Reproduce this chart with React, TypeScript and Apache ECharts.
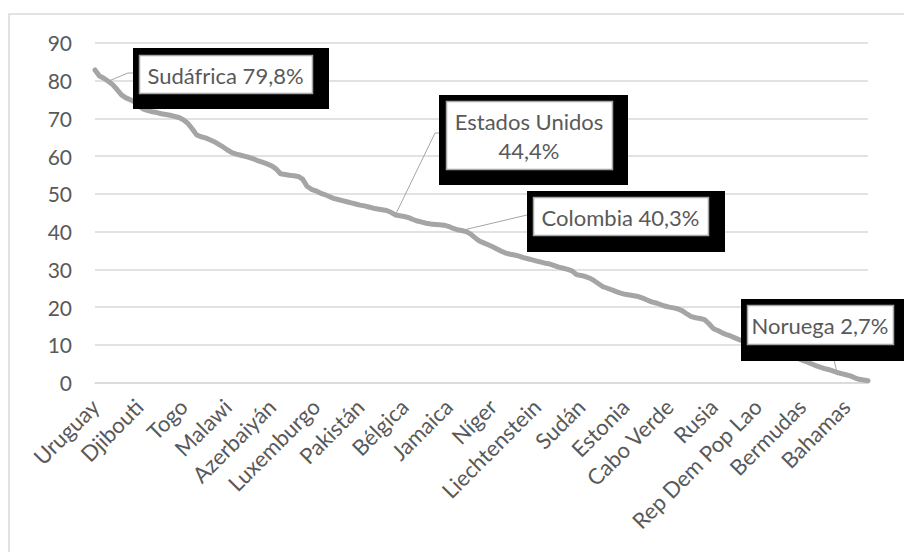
import { useEffect, useRef } from "react";
import * as echarts from "echarts";

// Countries shown on the category axis, one every ten positions.
const tickCountries = [
  "Uruguay", "Djibouti", "Togo", "Malawi", "Azerbaiyán", "Luxemburgo",
  "Pakistán", "Bélgica", "Jamaica", "Níger", "Liechtenstein", "Sudán",
  "Estonia", "Cabo Verde", "Rusia", "Rep Dem Pop Lao", "Bermudas", "Bahamas",
];
const tickStep = 10;

// Percentage per country, sorted in descending order.
const values = [
  82.8, 81.2, 80.6, 79.8, 78.9, 77.6, 76.2, 75.4, 74.9, 74.3,
  73.2, 72.4, 72.0, 71.7, 71.5, 71.2, 71.0, 70.8, 70.5, 70.2,
  69.6, 68.7, 67.2, 65.6, 65.1, 64.8, 64.3, 63.8, 63.1, 62.4,
  61.6, 60.9, 60.5, 60.2, 59.9, 59.6, 59.2, 58.7, 58.3, 57.9,
  57.4, 56.6, 55.3, 55.1, 54.9, 54.8, 54.6, 53.9, 52.0, 51.2,
  50.8, 50.2, 49.8, 49.3, 48.8, 48.5, 48.2, 47.9, 47.6, 47.3,
  47.0, 46.8, 46.5, 46.2, 46.0, 45.8, 45.6, 45.1, 44.4, 44.2,
  44.0, 43.7, 43.2, 42.8, 42.5, 42.2, 42.0, 41.9, 41.8, 41.7,
  41.4, 40.9, 40.5, 40.3, 40.0, 39.4, 38.4, 37.5, 37.0, 36.5,
  36.0, 35.4, 34.8, 34.3, 34.0, 33.8, 33.5, 33.1, 32.8, 32.5,
  32.2, 31.9, 31.6, 31.4, 31.0, 30.6, 30.3, 30.0, 29.6, 28.6,
  28.4, 28.1, 27.7, 27.0, 26.2, 25.4, 25.0, 24.6, 24.1, 23.7,
  23.4, 23.2, 23.0, 22.8, 22.4, 21.9, 21.4, 21.1, 20.7, 20.3,
  20.0, 19.8, 19.5, 19.0, 18.2, 17.5, 17.2, 17.0, 16.7, 15.6,
  14.3, 13.8, 13.2, 12.7, 12.3, 11.8, 11.3, 11.0, 10.8, 10.5,
  10.2, 9.7, 9.4, 9.1, 8.7, 8.3, 8.0, 7.5, 7.0, 6.5,
  6.0, 5.6, 5.1, 4.6, 4.2, 3.8, 3.5, 3.1, 2.7, 2.4,
  2.1, 1.8, 1.3, 0.9, 0.7, 0.5,
];

// Highlighted countries: position in the ranking.
const calloutNames = ["Sudáfrica", "Estados Unidos", "Colombia", "Noruega"];
const calloutIndices = [3, 68, 83, 168];

const categories: string[] = values.map(() => "");
tickCountries.forEach((c, i) => (categories[i * tickStep] = c));
calloutNames.forEach((c, i) => (categories[calloutIndices[i]] = c));

const FONT = "Lato, 'Open Sans', sans-serif";
const TEXT = "#595959";
const GRID = "#D9D9D9";

const fmt = (v: number) => v.toFixed(1).replace(".", ",") + "%";

// Callout box layout: outer dark frame, inner white label, leader bend points.
const boxLayouts = [
  { outer: [133, 48, 196, 61], inner: [139, 55, 173, 38], bend: [[128, 73], [139, 73]], twoLines: false },
  { outer: [439, 95, 189, 90], inner: [446, 101, 166, 68], bend: [[435, 133], [446, 133]], twoLines: true },
  { outer: [527, 191, 198, 61], inner: [533, 197, 175, 38], bend: [[527, 215], [533, 215]], twoLines: false },
  { outer: [741, 299, 170, 62], inner: [747, 305, 146, 39], bend: [[830, 344]], twoLines: false },
];

export default function App() {
  const ref = useRef<HTMLDivElement>(null);

  useEffect(() => {
    if (!ref.current) return;
    const chart = echarts.init(ref.current, null, { renderer: "svg" });
    chart.setOption({
      animation: false,
      backgroundColor: "#ffffff",
      grid: { left: 95, right: 36, top: 42.7, bottom: 169.3, containLabel: false },
      xAxis: {
        type: "category",
        boundaryGap: false,
        data: categories,
        axisLine: { show: true, lineStyle: { color: GRID, width: 1.5 } },
        axisTick: { show: false },
        axisLabel: {
          interval: tickStep - 1,
          rotate: 45,
          margin: 20,
          color: TEXT,
          fontFamily: FONT,
          fontSize: 22,
        },
        splitLine: { show: false },
      },
      yAxis: {
        type: "value",
        min: 0,
        max: 90,
        interval: 10,
        axisLine: { show: false },
        axisTick: { show: false },
        axisLabel: { margin: 23, color: TEXT, fontFamily: FONT, fontSize: 21 },
        splitLine: { lineStyle: { color: GRID, width: 1.5 } },
      },
      series: [
        {
          type: "line",
          data: values,
          symbol: "none",
          lineStyle: { color: "#A5A5A5", width: 5, cap: "round", join: "round" },
        },
      ],
    });

    const graphics: any[] = [
      {
        type: "rect",
        shape: { x: 9, y: 14, width: 1000, height: 1000 },
        style: { fill: "none", stroke: GRID, lineWidth: 1.5 },
        z: -1,
        silent: true,
      },
    ];

    calloutIndices.forEach((idx, i) => {
      const v = values[idx];
      const p = chart.convertToPixel({ seriesIndex: 0 }, [idx, v]) as number[];
      const L = boxLayouts[i];
      graphics.push({
        type: "polyline",
        shape: { points: [p, ...L.bend] },
        style: { stroke: "#A6A6A6", lineWidth: 1, fill: "none" },
        z: 10,
      });
      graphics.push({
        type: "rect",
        shape: { x: L.outer[0], y: L.outer[1], width: L.outer[2], height: L.outer[3] },
        style: { fill: "#000000" },
        z: 11,
      });
      graphics.push({
        type: "rect",
        shape: { x: L.inner[0] + 0.5, y: L.inner[1] + 0.5, width: L.inner[2], height: L.inner[3] },
        style: { fill: "#ffffff", stroke: "#A6A6A6", lineWidth: 1.5 },
        z: 12,
      });
      const cx = L.inner[0] + L.inner[2] / 2;
      const cy = L.inner[1] + L.inner[3] / 2;
      const text = L.twoLines ? `${calloutNames[i]}\n${fmt(v)}` : `${calloutNames[i]} ${fmt(v)}`;
      graphics.push({
        type: "text",
        x: cx,
        y: cy + 1,
        style: {
          text,
          fill: TEXT,
          font: `22px ${FONT}`,
          align: "center",
          verticalAlign: "middle",
          lineHeight: 29,
        },
        z: 13,
      });
    });

    chart.setOption({ graphic: graphics });
    return () => chart.dispose();
  }, []);

  return (
    <div
      ref={ref}
      style={{ position: "absolute", left: 0, top: 0, width: 904, height: 552 }}
    />
  );
}
